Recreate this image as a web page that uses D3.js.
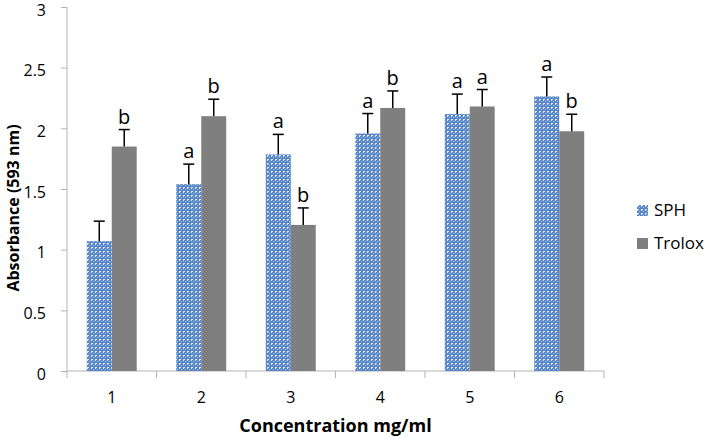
<!DOCTYPE html>
<html>
<head>
<meta charset="utf-8">
<script src="https://cdn.jsdelivr.net/npm/d3@7"></script>
<style>
  body { margin: 0; background: #fff; }
  text { font-family: "Open Sans", sans-serif; }
</style>
</head>
<body>
<div id="wrapper"></div>
<script>
const categories = ["1", "2", "3", "4", "5", "6"]
const series = ["SPH", "Trolox"]
const sphValues = [1.07, 1.54, 1.785, 1.957, 2.117, 2.263]
const sphErrors = [0.165, 0.165, 0.165, 0.165, 0.165, 0.16]
const troloxValues = [1.85, 2.10, 1.204, 2.168, 2.18, 1.976]
const troloxErrors = [0.14, 0.14, 0.14, 0.14, 0.14, 0.14]
const sphLetters = ["", "a", "a", "a", "a", "a"]
const troloxLetters = ["b", "b", "b", "b", "a", "b"]
const yTicks = [0, 0.5, 1, 1.5, 2, 2.5, 3]

const dimensions = {
    width: 709,
    height: 444,
    margin: { top: 7, right: 105, bottom: 73, left: 67 },
}
dimensions.boundedWidth = dimensions.width - dimensions.margin.left - dimensions.margin.right
dimensions.boundedHeight = dimensions.height - dimensions.margin.top - dimensions.margin.bottom

const wrapper = d3.select("#wrapper")
    .append("svg")
    .attr("width", dimensions.width)
    .attr("height", dimensions.height)

// dotted blue fill for SPH
const pattern = wrapper.append("defs").append("pattern")
    .attr("id", "sph")
    .attr("width", 4).attr("height", 4)
    .attr("patternUnits", "userSpaceOnUse")
pattern.append("rect").attr("width", 4).attr("height", 4).attr("fill", "#5686c8")
pattern.append("rect").attr("x", 0).attr("y", 0).attr("width", 2).attr("height", 1).attr("fill", "#e2eaf6")
pattern.append("rect").attr("x", 0).attr("y", 0).attr("width", 1).attr("height", 2).attr("fill", "#e2eaf6")
pattern.append("rect").attr("x", 2).attr("y", 2).attr("width", 1).attr("height", 1).attr("fill", "#b3c9e8")

const bounds = wrapper.append("g")
    .attr("transform", `translate(${dimensions.margin.left},${dimensions.margin.top})`)

const xScale = d3.scaleBand()
    .domain(categories)
    .range([0, dimensions.boundedWidth])

const groupScale = d3.scaleBand()
    .domain(series)
    .range([xScale.bandwidth() * 0.221, xScale.bandwidth() * 0.779])

const yScale = d3.scaleLinear()
    .domain([0, 3])
    .range([dimensions.boundedHeight, 0])

// axes
const yAxis = bounds.append("g")
    .call(d3.axisLeft(yScale).tickValues(yTicks).tickFormat(d3.format("")).tickSize(6))
yAxis.selectAll("path, line").attr("stroke", "#b3b3b3")
yAxis.select(".domain").attr("d", `M0,${yScale(3)}V${yScale(0)}`)
yAxis.selectAll("text")
    .attr("x", -21)
    .attr("dy", "0.5em")
    .attr("font-size", 16)
    .attr("font-family", "Open Sans")
    .attr("fill", "#000")

const xAxis = bounds.append("g")
    .attr("transform", `translate(0,${dimensions.boundedHeight})`)
    .call(d3.axisBottom(xScale).tickSize(0))
xAxis.select(".domain").attr("stroke", "#b3b3b3").attr("d", `M0,0H${dimensions.boundedWidth}`)
xAxis.selectAll("text")
    .attr("y", 21)
    .attr("font-size", 16)
    .attr("font-family", "Open Sans")
    .attr("fill", "#000")
bounds.append("g").selectAll("line")
    .data(categories.concat(["end"]))
    .join("line")
    .attr("x1", (d, i) => i * xScale.step())
    .attr("x2", (d, i) => i * xScale.step())
    .attr("y1", dimensions.boundedHeight)
    .attr("y2", dimensions.boundedHeight + 7)
    .attr("stroke", "#b3b3b3")

// bars
const rows = []
categories.forEach((c, i) => {
    rows.push({ cat: c, key: "SPH", value: sphValues[i], err: sphErrors[i], letter: sphLetters[i] })
    rows.push({ cat: c, key: "Trolox", value: troloxValues[i], err: troloxErrors[i], letter: troloxLetters[i] })
})
const barX = d => xScale(d.cat) + groupScale(d.key)
const barMid = d => barX(d) + groupScale.bandwidth() / 2

bounds.append("g").selectAll("rect")
    .data(rows)
    .join("rect")
    .attr("x", barX)
    .attr("y", d => yScale(d.value))
    .attr("width", groupScale.bandwidth())
    .attr("height", d => yScale(0) - yScale(d.value))
    .attr("fill", d => d.key == "SPH" ? "url(#sph)" : "#7f7f7f")

// error bars
const errors = bounds.append("g").attr("stroke", "#000").attr("stroke-width", 1.5)
errors.selectAll(".stem")
    .data(rows)
    .join("line")
    .attr("x1", barMid).attr("x2", barMid)
    .attr("y1", d => yScale(d.value))
    .attr("y2", d => yScale(d.value + d.err))
errors.selectAll(".cap")
    .data(rows)
    .join("line")
    .attr("x1", d => barMid(d) - 5.5).attr("x2", d => barMid(d) + 5.5)
    .attr("y1", d => yScale(d.value + d.err))
    .attr("y2", d => yScale(d.value + d.err))

bounds.append("g").selectAll("text")
    .data(rows.filter(d => d.letter))
    .join("text")
    .attr("x", barMid)
    .attr("y", d => yScale(d.value + d.err) - 6)
    .attr("text-anchor", "middle")
    .attr("font-size", 20)
    .text(d => d.letter)

// axis titles
wrapper.append("text")
    .attr("x", dimensions.margin.left + dimensions.boundedWidth / 2)
    .attr("y", 432)
    .attr("text-anchor", "middle")
    .attr("font-size", 18)
    .attr("font-weight", "bold")
    .text("Concentration mg/ml")

wrapper.append("text")
    .attr("transform", "translate(19,208) rotate(-90)")
    .attr("text-anchor", "middle")
    .attr("font-size", 16)
    .attr("font-weight", "bold")
    .text("Absorbance (593 nm)")

// legend
const legend = wrapper.append("g").selectAll("g")
    .data(series)
    .join("g")
    .attr("transform", (d, i) => `translate(637,${205 + i * 33})`)
legend.append("rect")
    .attr("width", 11).attr("height", 11)
    .attr("fill", d => d == "SPH" ? "url(#sph)" : "#7f7f7f")
legend.append("text")
    .attr("x", 17).attr("y", 11)
    .attr("font-size", 17)
    .text(d => d)
</script>
</body>
</html>
